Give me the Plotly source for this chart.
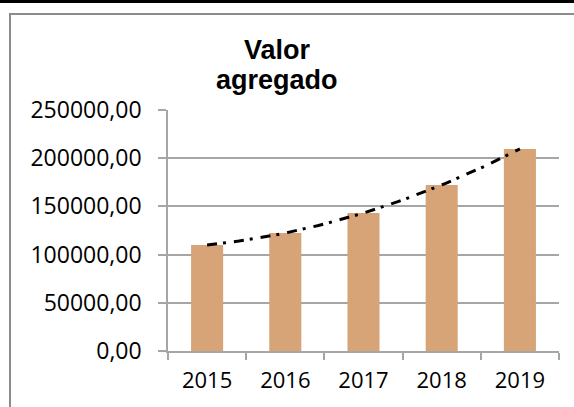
import numpy as np
import plotly.graph_objects as go

years = ["2015", "2016", "2017", "2018", "2019"]
valor_agregado = [110000, 122400, 143200, 172200, 209600]
title_lines = ["Valor", "agregado"]

W, H = 574, 407
L, R, T, B = 168, 15, 110, 56
pw, ph = W - L - R, H - T - B

def px_x(x):
    return (x - L) / pw

def px_y(y):
    return (H - B - y) / ph

# trend line (polynomial, order 2) computed from the bar values
idx = np.arange(len(years))
coef = np.polyfit(idx, valor_agregado, 2)
tx = np.linspace(0, len(years) - 1, 60)
ty = np.polyval(coef, tx)

fig = go.Figure()
fig.add_trace(go.Bar(
    x=years, y=valor_agregado,
    marker=dict(color="#D6A476", line=dict(width=0)),
    hoverinfo="x+y",
))
fig.add_trace(go.Scatter(
    x=tx, y=ty, xaxis="x2", mode="lines",
    line=dict(color="black", width=3, dash="10px,6px,3px,8px"),
    hoverinfo="skip",
))

grid_col = "#A6A6A6"
font_axis = dict(family="Open Sans", size=23, color="black")

fig.update_layout(
    width=W, height=H,
    margin=dict(l=L, r=R, t=T, b=B),
    paper_bgcolor="white", plot_bgcolor="white",
    showlegend=False,
    bargap=0.59,
    separators=",.",
    xaxis=dict(
        type="category", tickson="boundaries", ticks="outside", ticklen=7,
        tickcolor=grid_col, tickwidth=1.5,
        showline=True, linecolor=grid_col, linewidth=1.5,
        showgrid=False, tickfont=dict(family="Open Sans", size=22, color="black"),
        ticklabelstandoff=9,
        range=[-0.5, len(years) - 0.5],
    ),
    xaxis2=dict(
        overlaying="x", range=[-0.5, len(years) - 0.5], visible=False,
    ),
    yaxis=dict(
        range=[0, 250000], dtick=50000, tickformat=".2f",
        ticks="outside", ticklen=8, tickcolor=grid_col, tickwidth=1.5,
        showline=True, linecolor=grid_col, linewidth=1.5,
        showgrid=True, gridcolor=grid_col, gridwidth=1.5,
        zeroline=False, tickfont=font_axis, ticklabelstandoff=12,
    ),
    shapes=[
        dict(type="rect", xref="paper", yref="paper",
             x0=px_x(10), x1=px_x(W + 20), y0=px_y(H + 20), y1=px_y(14),
             line=dict(color="#8C8C8C", width=2), fillcolor="rgba(0,0,0,0)", layer="below"),
        dict(type="rect", xref="paper", yref="paper",
             x0=px_x(-5), x1=px_x(W + 5), y0=px_y(3), y1=px_y(-5),
             line=dict(width=0), fillcolor="black"),
    ],
    annotations=[
        dict(text="<b>%s</b>" % title_lines[0], xref="paper", yref="paper",
             x=px_x(277), y=px_y(50), xanchor="center", yanchor="middle",
             showarrow=False, font=dict(family="Liberation Sans", size=27, color="black")),
        dict(text="<b>%s</b>" % title_lines[1], xref="paper", yref="paper",
             x=px_x(277), y=px_y(80), xanchor="center", yanchor="middle",
             showarrow=False, font=dict(family="Liberation Sans", size=27, color="black")),
    ],
)

fig.write_html(
    "out.html",
    config={"displayModeBar": False},
    post_script="document.body.style.margin='0';document.body.style.overflow='hidden';",
)
